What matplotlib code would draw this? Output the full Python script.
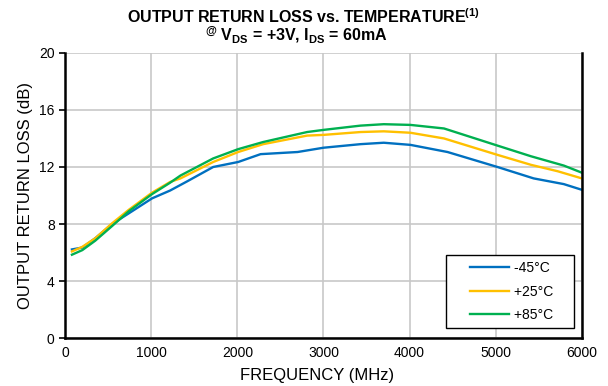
import matplotlib
matplotlib.use("Agg")
import numpy as np
import matplotlib.pyplot as plt
from matplotlib.legend_handler import HandlerLine2D
from matplotlib.lines import Line2D

plt.rcParams['font.family'] = ['Liberation Sans', 'DejaVu Sans']
plt.rcParams['mathtext.fontset'] = 'custom'
plt.rcParams['mathtext.rm'] = 'Liberation Sans'
plt.rcParams['mathtext.bf'] = 'Liberation Sans:bold'
plt.rcParams['mathtext.it'] = 'Liberation Sans:italic'

freq_m45 = [80, 200, 350, 546, 740, 1010, 1220, 1420, 1720, 2010, 2270, 2700, 3000, 3430, 3700, 4010, 4440, 5020, 5440, 5790, 6000]
rl_m45 = [6.22, 6.35, 7.0, 8.0, 8.75, 9.8, 10.35, 11.0, 12.0, 12.35, 12.9, 13.05, 13.35, 13.6, 13.7, 13.55, 13.05, 12.0, 11.2, 10.8, 10.4]

freq_p25 = [80, 200, 350, 546, 740, 1010, 1220, 1340, 1720, 2010, 2300, 2810, 3000, 3430, 3700, 4010, 4400, 5020, 5410, 5720, 6000]
rl_p25 = [6.08, 6.4, 7.0, 8.05, 9.0, 10.2, 10.95, 11.2, 12.35, 13.05, 13.6, 14.2, 14.25, 14.45, 14.5, 14.4, 14.0, 12.85, 12.15, 11.7, 11.2]

freq_p85 = [80, 200, 350, 546, 740, 1010, 1220, 1340, 1720, 2010, 2300, 2810, 3000, 3430, 3700, 4010, 4400, 5020, 5410, 5790, 6000]
rl_p85 = [5.85, 6.17, 6.83, 7.86, 8.9, 10.1, 10.9, 11.4, 12.6, 13.25, 13.75, 14.45, 14.6, 14.9, 15.0, 14.95, 14.7, 13.5, 12.75, 12.1, 11.6]

labels = ['-45°C', '+25°C', '+85°C']
colors = ['#0070C0', '#FFC000', '#00B050']


class PadHandler(HandlerLine2D):
    def __init__(self, lpad=12, **kw):
        super().__init__(**kw)
        self.lpad = lpad

    def create_artists(self, legend, orig_handle, xdescent, ydescent, width, height, fontsize, trans):
        arts = super().create_artists(legend, orig_handle, xdescent, ydescent, width, height, fontsize, trans)
        for a in arts:
            if isinstance(a, Line2D):
                xd = np.asarray(a.get_xdata(), dtype=float)
                if len(xd) >= 2:
                    a.set_xdata(np.linspace(xd[0] + self.lpad, xd[-1], len(xd)))
        return arts


fig = plt.figure(figsize=(6.08, 3.86), dpi=100)
ax = fig.add_axes([0.107, 0.124, 0.850, 0.739])

for f, r, lab, c in zip([freq_m45, freq_p25, freq_p85], [rl_m45, rl_p25, rl_p85], labels, colors):
    ax.plot(f, r, color=c, lw=1.7, label=lab)

ax.set_xlim(0, 6000)
ax.set_ylim(0, 20)
ax.set_xticks(range(0, 6001, 1000))
ax.set_yticks(range(0, 21, 4))
ax.grid(True, color='#c8c8c8', lw=1.2)
ax.set_axisbelow(True)
for s in ['left', 'bottom', 'right']:
    ax.spines[s].set_linewidth(1.8)
    ax.spines[s].set_color('black')
ax.spines['top'].set_visible(False)
ax.tick_params(axis='both', labelsize=10, width=1.2, direction='out')
ax.tick_params(axis='x', length=0, pad=6)
ax.tick_params(axis='y', length=4, right=False)
ax.set_xlabel('FREQUENCY (MHz)', fontsize=12)
ax.xaxis.set_label_coords(0.487, -0.105, transform=ax.transAxes)
ax.xaxis.label.set_va('top')
ax.set_ylabel('OUTPUT RETURN LOSS (dB)', fontsize=12, labelpad=4)

fig.text(0.5, 0.940, r'OUTPUT RETURN LOSS vs. TEMPERATURE$^{\mathbf{(1)}}$', ha='center', va='baseline',
         fontsize=11.5, fontweight='bold')
fig.text(0.487, 0.892, r'$^{\mathbf{@}}$ V$_{\mathbf{DS}}$ = +3V, I$_{\mathbf{DS}}$ = 60mA', ha='center', va='baseline',
         fontsize=11.5, fontweight='bold')

h, l = ax.get_legend_handles_labels()
l = [s + '    ' for s in l]
leg = ax.legend(h, l, loc='lower right', bbox_to_anchor=(0.985, 0.035), fontsize=10, fancybox=False,
                edgecolor='black', framealpha=1, handlelength=4.06, borderpad=0.42, labelspacing=0.7,
                handletextpad=0.35, borderaxespad=0,
                handler_map={Line2D: PadHandler(lpad=13)})
leg.get_frame().set_linewidth(1.0)

fig.savefig('out.png', dpi=100)
